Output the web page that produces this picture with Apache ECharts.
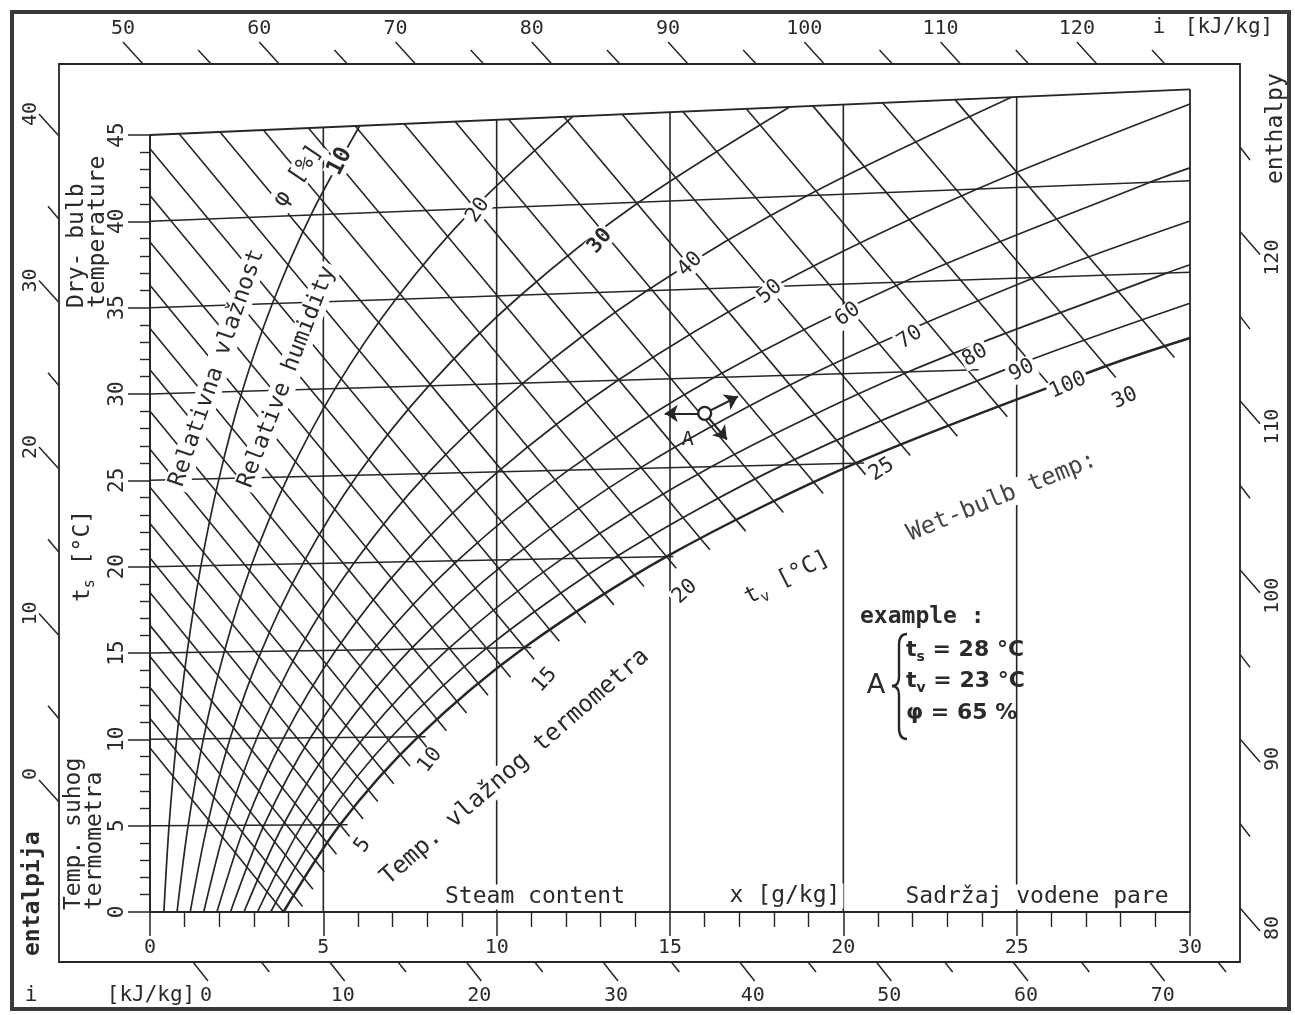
<!DOCTYPE html>
<html>
<head>
<meta charset="utf-8">
<title>i-x diagram</title>
<script src="https://cdn.jsdelivr.net/npm/echarts@6.0.0/dist/echarts.min.js"></script>
<style>
html, body { margin: 0; padding: 0; background: #fff; }
#ix { width: 1295px; height: 1015px; }
</style>
</head>
<body>
<div id="ix"></div>
<script>
// x = steam content [g/kg], t = dry-bulb temperature [°C]

// relative humidity curves: [x, t] where each one crosses the isotherms, last pair = where it leaves the chart
const rh10 = [[0.40,0],[0.55,5],[0.77,10],[1.07,15],[1.47,20],[1.99,25],[2.66,30],[3.53,35],[4.64,40],[6.05,45]];
const rh20 = [[0.78,0],[1.10,5],[1.54,10],[2.14,15],[2.93,20],[3.98,25],[5.34,30],[7.09,35],[9.33,40],[12.2,45]];
const rh30 = [[1.16,0],[1.65,5],[2.31,10],[3.21,15],[4.41,20],[5.98,25],[8.04,30],[10.7,35],[14.1,40],[18.45,45]];
const rh40 = [[1.55,0],[2.19,5],[3.08,10],[4.28,15],[5.89,20],[8.0,25],[10.76,30],[14.33,35],[18.95,40],[24.85,45]];
const rh50 = [[1.93,0],[2.74,5],[3.85,10],[5.36,15],[7.38,20],[10.03,25],[13.5,30],[18.02,35],[23.86,40],[30,44.2]];
const rh60 = [[2.32,0],[3.29,5],[4.63,10],[6.44,15],[8.87,20],[12.07,25],[16.27,30],[21.75,35],[28.85,40],[30,40.7]];
const rh70 = [[2.71,0],[3.84,5],[5.40,10],[7.52,15],[10.38,20],[14.12,25],[19.06,30],[25.52,35],[30,37.8]];
const rh80 = [[3.10,0],[4.39,5],[6.18,10],[8.61,15],[11.89,20],[16.19,25],[21.88,30],[29.34,35],[30,35.4]];
const rh90 = [[3.48,0],[4.94,5],[6.96,10],[9.71,15],[13.41,20],[18.27,25],[24.72,30],[30,33.3]];
const rh100 = [[3.85,0],[5.48,5],[7.74,10],[10.8,15],[14.9,20],[20.36,25],[27.58,30],[30,31.4]];
const rhCurves = [rh10, rh20, rh30, rh40, rh50, rh60, rh70, rh80, rh90, rh100];
const rhNames = ['10', '20', '30', '40', '50', '60', '70', '80', '90', '100'];

// wet-bulb lines: where they meet saturation and where they start (left axis or 45 °C top line)
const wbTemp = [0,1,2,3,4,5,6,7,8,9,10,11,12,13,14,15,16,17,18,19,20,21,22,23,24,25,26,27,28,29,30,31];
const wbSatX = [3.85,4.12,4.42,4.75,5.10,5.48,5.87,6.29,6.75,7.22,7.74,8.27,8.85,9.47,10.12,10.80,11.53,12.29,13.10,13.97,14.90,15.87,16.90,17.99,19.14,20.36,21.65,23.01,24.45,25.97,27.58,29.27];
const wbStartX = [0,0,0,0,0,0,0,0,0,0,0,0,0,0,0,0,0,0.84,2.02,3.27,4.57,5.92,7.33,8.80,10.34,11.94,13.62,15.37,17.20,19.12,21.13,23.22];
const wbStartT = [9.5,11.2,13.0,14.8,16.6,18.5,20.5,22.5,24.6,26.8,29.0,31.4,33.8,36.3,38.8,41.5,44.2,45,45,45,45,45,45,45,45,45,45,45,45,45,45,45];

// dry-bulb isotherms drawn every 5 °C and where they stop on the right
const isoT = [5, 10, 15, 20, 25, 30, 35, 40];
const isoEndX = [5.7, 7.95, 11.0, 15.1, 20.6, 23.9, 30, 30];
const xLines = [5, 10, 15, 20, 25];

// enthalpy scales round the frame [kJ/kg]
const topScale = [50,55,60,65,70,75,80,85,90,95,100,105,110,115,120,125];
const bottomScale = [0,5,10,15,20,25,30,35,40,45,50,55,60,65,70,75];
const leftScale = [0,5,10,15,20,25,30,35,40];
const rightScale = [80,85,90,95,100,105,110,115,120,125];

// example point A and the arrows drawn from it
const pointA = [16.0, 28.0];
const arrowEnds = [[14.85, 28.05], [16.96, 28.9], [16.64, 26.5]];

// label placement on the curves
const rhLabelX = [5.48, 9.46, 12.98, 15.58, 17.88, 20.13, 21.92, 23.80, 25.15, 26.48];
const rhLabelT = [43.0, 39.9, 37.9, 36.4, 34.7, 33.3, 31.9, 30.8, 29.9, 29.0];
const rhLabelRot = [62, 55, 50, 45, 40, 36, 33, 30, 27, 24];
const wbLabels = ['5', '10', '15', '20', '25', '30'];
const wbLabelX = [6.14, 8.08, 11.39, 15.43, 21.11, 28.12];
const wbLabelT = [3.83, 8.66, 13.14, 18.0, 24.6, 28.2];
const wbLabelRot = [55, 52, 48, 42, 33, 25];

const LINE = '#262626';
const TEXT = '#2a2a2a';
const MONO = 'DejaVu Sans Mono';
const SKEW = 0.00196;   // isotherms rise to the right (45 °C line ends at 47.65 on the left scale)
const WB_TICK = 0.28;   // wet-bulb lines run a little past the saturation curve

function ch(x, t) { return [x, t * (1 + SKEW * x)]; }

const series = [];
function path(points, width, extra) {
  series.push(Object.assign({
    type: 'line', xAxisIndex: 0, yAxisIndex: 0,
    data: points, symbol: 'none', silent: true, clip: false,
    lineStyle: { color: LINE, width: width || 1.6 }
  }, extra || {}));
}

// wet-bulb lines
wbTemp.forEach((tw, i) => {
  const a = ch(wbStartX[i], wbStartT[i]);
  const b = ch(wbSatX[i], tw);
  const k = (b[1] - a[1]) / (b[0] - a[0]);
  const ext = tw > 0 ? WB_TICK : 0;
  path([a, [b[0] + ext, b[1] + k * ext]], 1.6);
});
// isotherms
isoT.forEach((t, i) => path([ch(0, t), ch(isoEndX[i], t)], 1.5));
// vertical lines of constant steam content
xLines.forEach(x => path([ch(x, 0), ch(x, 45)], 1.6));
// chart border: 45 °C line on top, x = 30 on the right, x = 0 on the left
path([ch(0, 45), ch(30, 45)], 1.8);
path([ch(30, 0), ch(30, 45)], 1.8);
path([ch(0, 0), ch(0, 45)], 1.8);
// relative humidity curves
rhCurves.forEach((c, i) => path(c.map(p => ch(p[0], p[1])), i === 9 ? 2.5 : 1.7, { smooth: 0.3 }));

const labelBase = { show: true, position: 'inside', formatter: '{b}', color: TEXT, opacity: 1,
  fontFamily: MONO, fontSize: 21, backgroundColor: '#fff', padding: [0, 2] };
// labels sitting on the curves
series.push({
  type: 'scatter', xAxisIndex: 0, yAxisIndex: 0, symbolSize: 1, silent: true, z: 6,
  itemStyle: { color: 'rgba(0,0,0,0)', opacity: 1 },
  label: labelBase,
  data: rhNames.map((n, i) => ({
    name: n, value: ch(rhLabelX[i], rhLabelT[i]),
    label: { rotate: rhLabelRot[i], fontWeight: (n === '10' || n === '30') ? 'bold' : 'normal', fontSize: n === '10' ? 23 : 21 }
  }))
});
series.push({
  type: 'scatter', xAxisIndex: 0, yAxisIndex: 0, symbolSize: 1, silent: true, z: 6,
  itemStyle: { color: 'rgba(0,0,0,0)', opacity: 1 },
  label: labelBase,
  data: wbLabels.map((n, i) => ({ name: n, value: ch(wbLabelX[i], wbLabelT[i]), label: { rotate: wbLabelRot[i] } }))
});
// point A with its arrows
series.push({
  type: 'scatter', xAxisIndex: 0, yAxisIndex: 0, silent: true, z: 8,
  symbol: 'circle', symbolSize: 13,
  itemStyle: { color: '#fff', borderColor: LINE, borderWidth: 2.4, opacity: 1 },
  label: { show: true, formatter: 'A', offset: [-17, 26], color: TEXT, opacity: 1, fontFamily: MONO, fontSize: 20 },
  data: [ch(pointA[0], pointA[1])],
  markLine: {
    silent: true, symbol: ['none', 'arrow'], symbolSize: 13,
    label: { show: false },
    lineStyle: { color: LINE, width: 2.2, type: 'solid', opacity: 1 },
    data: arrowEnds.map(p => [{ coord: ch(pointA[0], pointA[1]) }, { coord: ch(p[0], p[1]) }])
  }
});

// slanted enthalpy ticks round the outer frame
function frameTicks(cfg) {
  return function (params, api) {
    const v = cfg.vertical ? api.value(1) : api.value(0);
    const p = api.coord([api.value(0), api.value(1)]);
    const major = v % 10 === 0;
    const d = major ? cfg.major : cfg.minor;
    const kids = [{
      type: 'line', shape: { x1: p[0], y1: p[1], x2: p[0] + d[0], y2: p[1] + d[1] },
      style: { stroke: LINE, lineWidth: 1.5 }
    }];
    if (major) {
      kids.push({
        type: 'text', x: p[0] + cfg.label[0], y: p[1] + cfg.label[1], rotation: cfg.rot || 0,
        style: { text: String(v), fill: TEXT, fontFamily: MONO, fontSize: 20, align: cfg.align || 'center', verticalAlign: 'middle' }
      });
    }
    return { type: 'group', children: kids };
  };
}
series.push({ type: 'custom', coordinateSystem: 'cartesian2d', xAxisIndex: 1, yAxisIndex: 1, silent: true,
  data: topScale.map(v => [v, 0]),
  renderItem: frameTicks({ major: [-20, -22], minor: [-13, -14], label: [-20, -35] }) });
series.push({ type: 'custom', coordinateSystem: 'cartesian2d', xAxisIndex: 2, yAxisIndex: 2, silent: true,
  data: bottomScale.map(v => [v, 0]),
  renderItem: frameTicks({ major: [15, 19], minor: [8, 10], label: [13, 34] }) });
series.push({ type: 'custom', coordinateSystem: 'cartesian2d', xAxisIndex: 3, yAxisIndex: 3, silent: true,
  data: leftScale.map(v => [0, v]),
  renderItem: frameTicks({ vertical: true, major: [-20, -22], minor: [-11, -13], label: [-28, -34], rot: Math.PI / 2, align: 'right' }) });
series.push({ type: 'custom', coordinateSystem: 'cartesian2d', xAxisIndex: 4, yAxisIndex: 4, silent: true,
  data: rightScale.map(v => [0, v]),
  renderItem: frameTicks({ vertical: true, major: [20, 23], minor: [10, 13], label: [33, 8], rot: Math.PI / 2, align: 'right' }) });

function hidden(grid, min, max) {
  return { gridIndex: grid, type: 'value', min: min, max: max, show: false };
}

function txt(text, x, y, deg, st) {
  return {
    type: 'text', x: x, y: y, rotation: deg * Math.PI / 180, z: 50, silent: true,
    style: Object.assign({ text: text, fill: TEXT, fontFamily: MONO, fontSize: 23, align: 'center', verticalAlign: 'middle' }, st || {})
  };
}
const white = { backgroundColor: '#fff', padding: [1, 3] };
const sub = {
  a: { fontFamily: MONO, fontSize: 23, lineHeight: 30 },
  b: { fontFamily: MONO, fontSize: 15, lineHeight: 18, verticalAlign: 'bottom' }
};
const subBold = {
  a: { fontFamily: 'DejaVu Sans', fontSize: 22, fontWeight: 'bold', lineHeight: 28 },
  b: { fontFamily: 'DejaVu Sans', fontSize: 14, fontWeight: 'bold', lineHeight: 16, verticalAlign: 'bottom' }
};
function brace(shape, curve) {
  return { type: curve ? 'bezierCurve' : 'line', z: 50, silent: true, shape: shape,
    style: { stroke: LINE, lineWidth: 2.4, fill: 'none' } };
}

const graphic = [
  { type: 'rect', z: 40, silent: true, shape: { x: 12, y: 12, width: 1277, height: 997 }, style: { fill: 'none', stroke: '#3a3a3a', lineWidth: 4 } },
  { type: 'rect', z: 40, silent: true, shape: { x: 59, y: 64, width: 1181, height: 898 }, style: { fill: 'none', stroke: LINE, lineWidth: 1.8 } },
  txt('Dry- bulb', 77, 308, 90, { align: 'left' }),
  txt('temperature', 98, 308, 90, { align: 'left' }),
  txt('{a|t}{b|s}{a| [°C]}', 83, 602, 90, { align: 'left', rich: sub }),
  txt('Temp. suhog', 74, 910, 90, { align: 'left' }),
  txt('termometra', 95, 910, 90, { align: 'left' }),
  txt('entalpija', 33, 956, 90, { align: 'left', fontWeight: 'bold' }),
  txt('enthalpy', 1276, 184, 90, { align: 'left' }),
  txt('i', 1159, 28, 0, { fontSize: 21 }),
  txt('[kJ/kg]', 1229, 28, 0, { fontSize: 21 }),
  txt('i', 31, 996, 0, { fontSize: 21 }),
  txt('[kJ/kg]', 151, 996, 0, { fontSize: 21 }),
  txt('Relativna vlažnost', 217, 368, 71, white),
  txt('Relative humidity', 287, 377, 69, white),
  txt('φ [%]', 298, 176, 56, white),
  txt('Temp. vlažnog termometra', 515, 767, 41, Object.assign({ fontSize: 24 }, white)),
  txt('{a|t}{b|v}{a| [°C]}', 787, 578, 27, Object.assign({ rich: sub }, white)),
  txt('Wet-bulb temp:', 1002, 497, 22, Object.assign({ fontSize: 24, fill: '#444' }, white)),
  txt('Steam content', 535, 897, 0, white),
  txt('x [g/kg]', 785, 896, 0, white),
  txt('Sadržaj vodene pare', 1037, 897, 0, white),
  txt('example :', 860, 617, 0, { align: 'left', fontWeight: 'bold' }),
  txt('A', 876, 686, 0, { fontFamily: 'DejaVu Sans', fontSize: 27 }),
  txt('{a|t}{b|s}{a| = 28 °C}', 906, 650, 0, { align: 'left', rich: subBold }),
  txt('{a|t}{b|v}{a| = 23 °C}', 906, 681, 0, { align: 'left', rich: subBold }),
  txt('φ = 65 %', 906, 713, 0, { align: 'left', fontFamily: 'DejaVu Sans', fontSize: 22, fontWeight: 'bold' }),
  // brace of the example
  brace({ x1: 907, y1: 634, cpx1: 899, cpy1: 634, x2: 899, y2: 645 }, true),
  brace({ x1: 899, y1: 645, x2: 899, y2: 677 }),
  brace({ x1: 899, y1: 677, cpx1: 899, cpy1: 686, x2: 892, y2: 686 }, true),
  brace({ x1: 892, y1: 686, cpx1: 899, cpy1: 686, x2: 899, y2: 695 }, true),
  brace({ x1: 899, y1: 695, x2: 899, y2: 728 }),
  brace({ x1: 899, y1: 728, cpx1: 899, cpy1: 739, x2: 907, y2: 739 }, true)
];

const chart = echarts.init(document.getElementById('ix'));
chart.setOption({
  animation: false,
  backgroundColor: '#fff',
  grid: [
    { left: 150, top: 135, width: 1040, height: 777 },
    { left: 143, top: 63, width: 1022, height: 1 },
    { left: 193, top: 961, width: 1025, height: 1 },
    { left: 59, top: 136, width: 1, height: 666 },
    { left: 1240, top: 147, width: 1, height: 761 }
  ],
  xAxis: [
    { gridIndex: 0, type: 'value', min: 0, max: 30, interval: 5,
      axisLine: { show: true, onZero: false, lineStyle: { color: LINE, width: 1.8 } },
      axisTick: { show: true, length: 24, lineStyle: { color: LINE, width: 1.5 } },
      minorTick: { show: true, splitNumber: 5, length: 15, lineStyle: { color: LINE, width: 1.4 } },
      axisLabel: { color: TEXT, fontFamily: MONO, fontSize: 20, margin: 26 },
      splitLine: { show: false } },
    hidden(1, 50, 125), hidden(2, 0, 75), hidden(3, 0, 1), hidden(4, 0, 1)
  ],
  yAxis: [
    { gridIndex: 0, type: 'value', min: 0, max: 45, interval: 5,
      axisLine: { show: true, onZero: false, lineStyle: { color: LINE, width: 1.8 } },
      axisTick: { show: true, length: 22, lineStyle: { color: LINE, width: 1.5 } },
      minorTick: { show: true, splitNumber: 5, length: 10, lineStyle: { color: LINE, width: 1.4 } },
      axisLabel: { color: TEXT, fontFamily: MONO, fontSize: 21, rotate: 90, margin: 22 },
      splitLine: { show: false } },
    hidden(1, 0, 1), hidden(2, 0, 1), hidden(3, 0, 40), hidden(4, 80, 125)
  ],
  series: series,
  graphic: graphic
});
</script>
</body>
</html>
